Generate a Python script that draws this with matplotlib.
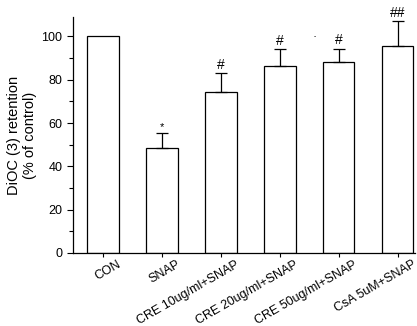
import matplotlib.pyplot as plt
import matplotlib.transforms as mtransforms
import numpy as np

plt.rcParams['font.family'] = ['Liberation Sans', 'DejaVu Sans']

groups = ["CON", "SNAP", "CRE 10ug/ml+SNAP", "CRE 20ug/ml+SNAP",
          "CRE 50ug/ml+SNAP", "CsA 5uM+SNAP"]
retention = [100, 48.5, 74.5, 86.5, 88.2, 95.8]
errors = [0, 6.7, 8.8, 7.6, 6.2, 11.3]
marks = ["", "*", "#", "#", "#", "##"]

fig = plt.figure(figsize=(4.17, 3.26), dpi=100)
ax = fig.add_axes([0.175, 0.224, 0.82, 0.724])

x = np.arange(len(groups))
ax.bar(x, retention, width=0.53, color="white", edgecolor="black", linewidth=0.9)
ax.errorbar(x[1:], retention[1:], yerr=[np.zeros(5), errors[1:]], fmt="none",
            ecolor="black", elinewidth=0.9, capsize=4, capthick=0.9)

for xi, v, e, m in zip(x, retention, errors, marks):
    if m == "*":
        ax.text(xi, v + e + 0.8, m, ha="center", va="bottom", fontsize=8)
    elif m:
        ax.text(xi, v + e + 0.5, m, ha="center", va="bottom", fontsize=10)
# stray dot in the scan
ax.text(3.58, 99.5, "·", ha="center", va="center", fontsize=9)

ax.set_xlim(-0.51, 5.29)
ax.set_ylim(0, 109)
ax.set_yticks([0, 20, 40, 60, 80, 100])
ax.set_yticks(range(10, 110, 20), minor=True)
ax.set_xticks(x)
ax.set_xticklabels(groups, rotation=30, ha="right", rotation_mode="anchor", fontsize=9)
ax.tick_params(axis="y", labelsize=9, direction="out", length=4, width=0.8)
ax.tick_params(axis="y", which="minor", length=3, width=0.8)
ax.tick_params(axis="x", direction="out", length=3, width=0.8, pad=1)
shift = mtransforms.ScaledTranslation(0.14, 0, fig.dpi_scale_trans)
for lbl in ax.get_xticklabels():
    lbl.set_transform(lbl.get_transform() + shift)
ax.spines["top"].set_visible(False)
ax.spines["right"].set_visible(False)
ax.spines["left"].set_linewidth(0.9)
ax.spines["bottom"].set_linewidth(0.9)
ax.set_ylabel("DiOC (3) retention\n(% of control)", fontsize=10.5, labelpad=3)

fig.savefig("out.png", dpi=100)
